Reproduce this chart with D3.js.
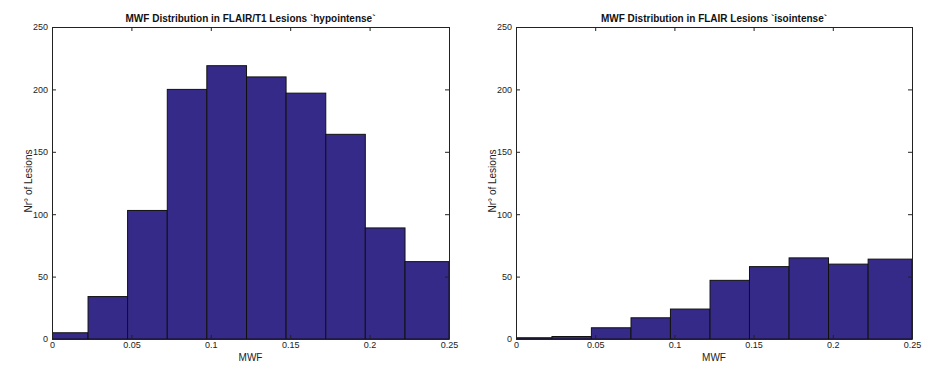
<!DOCTYPE html>
<html>
<head>
<meta charset="utf-8">
<script src="https://cdn.jsdelivr.net/npm/d3@7"></script>
<style>
    body { margin: 0; background: #fff; }
    text { font-family: "Liberation Sans", Arial, sans-serif; }
</style>
</head>
<body>
<div id="chart"></div>
<script>
// histogram bin edges (MWF), shared by both panels
const binEdges = [-0.0023, 0.0227, 0.0476, 0.0726, 0.0975, 0.1225, 0.1474, 0.1724, 0.1973, 0.2223, 0.25];
const hypoCounts = [5, 34, 103, 200, 219, 210, 197, 164, 89, 62];
const isoCounts = [1, 2, 9, 17, 24, 47, 58, 65, 60, 64];
const xTicks = [0, 0.05, 0.1, 0.15, 0.2, 0.25];
const yTicks = [0, 50, 100, 150, 200, 250];
const titles = [
    "MWF Distribution in FLAIR/T1 Lesions `hypointense`",
    "MWF Distribution in FLAIR Lesions `isointense`"
];

const width = 945,
    height = 372;

const svg = d3
    .select("#chart")
    .append("svg")
    .attr("width", width)
    .attr("height", height);

function drawPanel(left, right, counts, title, idx) {
    const top = 27,
        bottom = 339;
    const x = d3.scaleLinear().domain([0, 0.25]).range([left, right]);
    const y = d3.scaleLinear().domain([0, 250]).range([bottom, top]);

    const g = svg.append("g");

    g.append("clipPath")
        .attr("id", "clip" + idx)
        .append("rect")
        .attr("x", left)
        .attr("y", top)
        .attr("width", right - left)
        .attr("height", bottom - top);

    const bins = counts.map((c, i) => ({ x0: binEdges[i], x1: binEdges[i + 1], n: c }));

    g.append("g")
        .attr("clip-path", `url(#clip${idx})`)
        .selectAll("rect")
        .data(bins)
        .join("rect")
        .attr("x", (d) => x(d.x0))
        .attr("y", (d) => y(d.n))
        .attr("width", (d) => x(d.x1) - x(d.x0))
        .attr("height", (d) => y(0) - y(d.n))
        .attr("fill", "#352a87")
        .attr("stroke", "#111")
        .attr("stroke-width", 1);

    // axes, ticks pointing inward on all sides (box on)
    const tickStyle = (sel) => {
        sel.select(".domain").attr("stroke", "#222");
        sel.selectAll(".tick line").attr("stroke", "#222");
        sel.selectAll(".tick text").attr("fill", "#222").style("font-size", "9px");
    };

    g.append("g")
        .attr("transform", `translate(0,${bottom})`)
        .call(d3.axisBottom(x).tickValues(xTicks).tickSize(-4).tickSizeOuter(0).tickPadding(3).tickFormat((d) => String(d)))
        .call(tickStyle);
    g.append("g")
        .attr("transform", `translate(0,${top})`)
        .call(d3.axisTop(x).tickValues(xTicks).tickSize(-4).tickSizeOuter(0).tickFormat(""))
        .call(tickStyle);
    g.append("g")
        .attr("transform", `translate(${left},0)`)
        .call(d3.axisLeft(y).tickValues(yTicks).tickSize(-4).tickSizeOuter(0).tickPadding(4))
        .call(tickStyle);
    g.append("g")
        .attr("transform", `translate(${right},0)`)
        .call(d3.axisRight(y).tickValues(yTicks).tickSize(-4).tickSizeOuter(0).tickFormat(""))
        .call(tickStyle);

    g.append("text")
        .attr("x", (left + right) / 2)
        .attr("y", 22)
        .attr("text-anchor", "middle")
        .style("font-size", "10px")
        .style("font-weight", "bold")
        .attr("fill", "#111")
        .text(title);

    g.append("text")
        .attr("x", (left + right) / 2)
        .attr("y", 361)
        .attr("text-anchor", "middle")
        .style("font-size", "10px")
        .attr("fill", "#222")
        .text("MWF");

    g.append("text")
        .attr("transform", `translate(${left - 20},${(top + bottom) / 2 - 2}) rotate(-90)`)
        .attr("text-anchor", "middle")
        .style("font-size", "10px")
        .attr("fill", "#222")
        .text("Nr° of Lesions");
}

drawPanel(52, 449, hypoCounts, titles[0], 0);
drawPanel(516, 912, isoCounts, titles[1], 1);
</script>
</body>
</html>
